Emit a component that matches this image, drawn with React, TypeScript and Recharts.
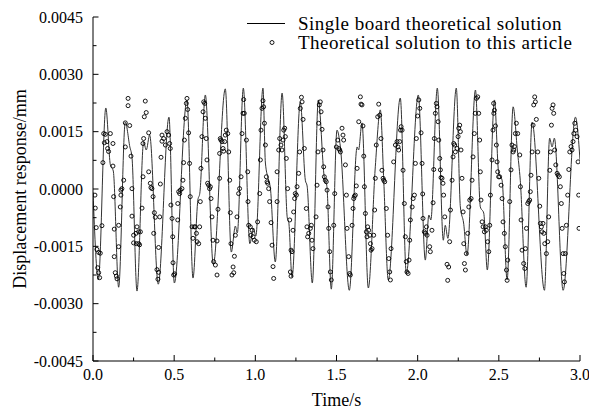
import React from "react";
import { ComposedChart, Line, Scatter, XAxis, YAxis, Legend } from "recharts";

const FONT = "'Liberation Serif', 'Times New Roman', serif";

// Single board theoretical solution (time s, displacement mm)
const lineT = [0, 0.033, 0.079, 0.107, 0.125, 0.158, 0.199, 0.227, 0.24, 0.271, 0.312, 0.328, 0.349, 0.402, 0.468, 0.501, 0.579, 0.616, 0.646, 0.658, 0.692, 0.741, 0.815, 0.852, 0.877, 0.889, 0.926, 0.966, 0.988, 1.003, 1.047, 1.062, 1.082, 1.092, 1.123, 1.165, 1.197, 1.206, 1.226, 1.277, 1.308, 1.319, 1.351, 1.388, 1.425, 1.44, 1.468, 1.503, 1.524, 1.579, 1.627, 1.636, 1.657, 1.696, 1.739, 1.77, 1.791, 1.819, 1.893, 1.93, 2.004, 2.047, 2.069, 2.081, 2.121, 2.158, 2.17, 2.186, 2.238, 2.263, 2.283, 2.304, 2.356, 2.386, 2.407, 2.429, 2.473, 2.499, 2.52, 2.551, 2.588, 2.614, 2.632, 2.668, 2.705, 2.781, 2.813, 2.828, 2.842, 2.896, 2.972, 3.0];
const lineV = [-0.00008, -0.00238, 0.00212, 0.00063, 0.00047, -0.00257, 0.00175, 0.0011, 0.00084, -0.00267, 0.00123, 0.00102, 0.00141, -0.00249, 0.00188, -0.00246, 0.00233, -0.00233, -0.00029, -0.00011, 0.00246, -0.00197, 0.00262, -0.00165, -0.00097, -0.00115, 0.00264, -0.00143, -0.00102, -0.00123, 0.00264, 0.00068, 0.00023, 0.00005, -0.00191, 0.00251, -0.00076, -0.00087, -0.00231, 0.00228, 0.00023, 0.00008, -0.00246, 0.00233, 0.0003, 0.0001, -0.00262, 0.00154, 0.0011, -0.00265, 0.0011, 0.00102, 0.00173, -0.00259, 0.00058, 0.00207, 0.00023, -0.00238, 0.00238, -0.0022, 0.00246, -0.00186, -0.00068, -0.00081, 0.00264, -0.00134, -0.00095, -0.00129, 0.00264, -0.00047, -0.00089, -0.00173, 0.00259, -0.00047, -0.00063, -0.00212, 0.00233, 0.00042, 0.00023, -0.00238, 0.00215, 0.00102, 0.00023, -0.00257, 0.00175, -0.00265, 0.00133, 0.0011, 0.00133, -0.00265, 0.00188, 0.00076];

// Theoretical solution to this article: [time, displacement]
const articlePts: [number, number][] = [
  [0.012, -0.00016], [0.014, -0.0005], [0.02, -0.00101], [0.024, -0.00158], [0.029, -0.00206], [0.035, -0.00219], [0.035, -0.00166], [0.041, -0.00232], [0.045, -0.00168], [0.055, -0.00096], [0.061, 0.00069], [0.066, 0.00145], [0.07, 0.00121], [0.076, 0.00143], [0.086, 0.00124], [0.09, 0.00106], [0.096, 0.00098], [0.107, 0.00145], [0.123, 0.00119], [0.123, 0.0006], [0.127, -0.0002], [0.131, -0.00105], [0.131, -0.00177], [0.137, -0.00219], [0.144, -0.00228], [0.148, -0.00235], [0.158, -0.00151], [0.158, -0.00095], [0.168, -0.00047], [0.172, -0.00016], [0.172, -0.00003], [0.178, 0.00001], [0.189, 0.00023], [0.199, 0.0011], [0.199, 0.00173], [0.216, 0.00237], [0.216, 0.00218], [0.226, 0.00166], [0.234, 0.00086], [0.24, 0.00001], [0.24, -0.00071], [0.25, -0.00121], [0.25, -0.00141], [0.265, -0.00116], [0.267, -0.00143], [0.271, -0.00099], [0.281, -0.00112], [0.281, -0.00143], [0.287, -0.00146], [0.292, -0.00112], [0.302, -0.0005], [0.308, 0.00032], [0.308, 0.00119], [0.312, 0.00132], [0.316, 0.00189], [0.322, 0.0023], [0.328, 0.002], [0.343, 0.00147], [0.343, 0.00045], [0.353, 0.00015], [0.357, 0.00004], [0.363, 0.00001], [0.37, -0.0002], [0.374, -0.00116], [0.378, -0.00062], [0.384, -0.00074], [0.394, -0.00211], [0.4, -0.00236], [0.404, -0.00218], [0.404, -0.00153], [0.411, -0.00073], [0.415, 0.00013], [0.419, 0.00083], [0.425, 0.00141], [0.425, 0.00125], [0.435, 0.00132], [0.446, 0.00115], [0.456, 0.0015], [0.466, 0.00141], [0.472, 0.00119], [0.476, 0.00106], [0.48, -0.00042], [0.487, -0.00077], [0.491, -0.00125], [0.493, -0.00193], [0.497, -0.00225], [0.503, -0.00222], [0.522, -0.00038], [0.522, -0.00081], [0.528, -0.00007],
  [0.534, -0.00012], [0.538, -0.00003], [0.548, 0.00001], [0.554, 0.00023], [0.558, 0.00069], [0.563, 0.00128], [0.569, 0.00185], [0.575, 0.00224], [0.579, 0.00237], [0.583, 0.00208], [0.589, 0.00147], [0.595, 0.00067], [0.599, -0.0002], [0.61, -0.00099], [0.616, -0.00129], [0.624, -0.00099], [0.63, -0.00099], [0.637, -0.00116], [0.641, -0.00138], [0.651, -0.00143], [0.657, -0.00099], [0.661, -0.00033], [0.665, 0.00054], [0.671, 0.00137], [0.678, 0.00202], [0.682, 0.00228], [0.688, 0.00224], [0.692, 0.00185], [0.698, 0.00132], [0.702, 0.00076], [0.706, 0.00015], [0.712, 0.0001], [0.718, 0.00001], [0.723, 0.00006], [0.727, -0.00025], [0.733, -0.00073], [0.739, -0.00134], [0.743, -0.0019], [0.754, -0.00199], [0.764, -0.00136], [0.764, -0.00225], [0.77, -0.00053], [0.78, 0.00028], [0.78, 0.00093], [0.784, 0.00132], [0.788, 0.00128], [0.795, 0.00124], [0.801, 0.00106], [0.805, 0.00099], [0.811, 0.00124], [0.815, 0.00141], [0.821, 0.00154], [0.83, 0.00145], [0.836, 0.00097], [0.842, 0.00023], [0.846, -0.00062], [0.85, -0.00143], [0.856, -0.00225], [0.863, -0.00204], [0.867, -0.00219], [0.871, -0.00176], [0.877, -0.00121], [0.887, -0.00073], [0.897, -0.00012], [0.903, 0.00001], [0.912, 0.00032], [0.918, 0.00145], [0.924, 0.00198], [0.928, 0.00234], [0.932, 0.00198], [0.945, 0.00128], [0.953, 0.00045], [0.955, -0.00033], [0.959, -0.00095], [0.969, -0.00099], [0.973, -0.00121], [0.98, -0.00108], [0.986, -0.00125], [0.994, -0.00134], [1.006, -0.00138],
  [1.014, -0.00086], [1.027, -0.00012], [1.031, 0.00076], [1.035, 0.00154], [1.041, 0.00211], [1.047, 0.00231], [1.051, 0.00215], [1.056, 0.00172], [1.062, 0.00115], [1.068, 0.00032], [1.072, 0.00019], [1.076, 0.00015], [1.082, 0.00001], [1.088, -0.00033], [1.097, -0.00088], [1.103, -0.00147], [1.109, -0.00203], [1.113, -0.00234], [1.134, -0.00033], [1.134, 0.00045], [1.144, 0.00102], [1.15, 0.00132], [1.158, 0.00115], [1.164, 0.00102], [1.171, 0.00128], [1.175, 0.00154], [1.181, 0.00159], [1.185, 0.00137], [1.191, 0.0008], [1.199, 0.00001], [1.212, -0.00081], [1.216, -0.00217], [1.22, -0.0016], [1.22, -0.00228], [1.226, -0.00164], [1.232, -0.00108], [1.236, -0.0006], [1.242, -0.00025], [1.246, -0.00012], [1.253, -0.00016], [1.257, 0.00006], [1.267, 0.00041], [1.273, 0.00097], [1.277, 0.00211], [1.284, 0.0024], [1.288, 0.00228], [1.294, 0.00182], [1.302, 0.00106], [1.314, -0.00051], [1.318, -0.00099], [1.322, -0.00125], [1.329, -0.00116], [1.339, -0.00103], [1.345, -0.00095], [1.349, -0.00134], [1.355, -0.00156], [1.374, -0.00073], [1.38, 0.0001], [1.386, 0.00097], [1.39, 0.00172], [1.394, 0.0022], [1.4, 0.00228], [1.405, 0.00202], [1.411, 0.00156], [1.417, 0.00102], [1.421, 0.00058], [1.425, 0.00032], [1.431, 0.00023], [1.437, 0.00019], [1.442, -0.00003], [1.448, -0.00047], [1.452, -0.00103], [1.458, -0.00164], [1.462, -0.00217], [1.468, -0.00238], [1.483, -0.00095], [1.489, -0.00012], [1.499, 0.0011], [1.508, 0.00128], [1.514, 0.00106],
  [1.52, 0.00102], [1.524, 0.00097], [1.534, 0.00159], [1.54, 0.00141], [1.544, 0.00128], [1.555, 0.00063], [1.561, -0.00016], [1.565, -0.00103], [1.575, -0.00177], [1.581, -0.00221], [1.585, -0.00225], [1.596, -0.00095], [1.602, -0.00051], [1.606, -0.00025], [1.61, -0.00019], [1.616, -0.00016], [1.622, 0.00008], [1.627, 0.00054], [1.637, 0.00176], [1.647, 0.00241], [1.651, 0.00222], [1.657, 0.0022], [1.663, 0.00165], [1.668, 0.00086], [1.672, 0.00006], [1.678, -0.00064], [1.684, -0.00112], [1.688, -0.00125], [1.692, -0.00099], [1.698, -0.00108], [1.705, -0.00121], [1.709, -0.00143], [1.713, -0.0016], [1.719, -0.00156], [1.729, -0.00121], [1.735, -0.00055], [1.739, 0.00028], [1.745, 0.00115], [1.754, 0.00189], [1.76, 0.00222], [1.766, 0.00193], [1.774, 0.00132], [1.78, 0.00049], [1.787, 0.00028], [1.791, 0.00023], [1.797, 0.00019], [1.807, -0.00051], [1.815, -0.00121], [1.822, -0.00182], [1.828, -0.00217], [1.832, -0.00238], [1.836, -0.00156], [1.852, 0.00071], [1.863, 0.00115], [1.873, 0.00124], [1.879, 0.0011], [1.883, 0.00102], [1.889, 0.00124], [1.894, 0.00154], [1.898, 0.00163], [1.904, 0.00154], [1.91, 0.00049], [1.918, -0.00038], [1.924, -0.00125], [1.93, -0.0019], [1.934, -0.00217], [1.941, -0.00221], [1.947, -0.00186], [1.951, -0.00134], [1.955, -0.00081], [1.966, -0.00047], [1.972, -0.00025], [1.98, -0.00016], [1.986, 0.00067], [1.992, 0.00132], [2.0, 0.00191], [2.007, 0.00233],
  [2.013, 0.00211], [2.021, 0.00147], [2.027, 0.00067], [2.031, -0.00013], [2.033, -0.00077], [2.041, -0.00112], [2.048, -0.00116], [2.054, -0.00099], [2.058, -0.00121], [2.074, -0.00151], [2.078, -0.00164], [2.088, -0.00108], [2.095, -0.00036], [2.099, 0.00051], [2.103, 0.00132], [2.109, 0.00198], [2.115, 0.00224], [2.119, 0.00215], [2.126, 0.00176], [2.13, 0.00128], [2.136, 0.0008], [2.14, 0.0005], [2.144, 0.0003], [2.15, 0.00028], [2.156, 0.00015], [2.16, -0.00016], [2.167, -0.00073], [2.181, -0.00197], [2.185, -0.00239], [2.191, -0.00204], [2.197, -0.00138], [2.202, -0.00055], [2.212, 0.00023], [2.218, 0.00084], [2.222, 0.00119], [2.228, 0.00115], [2.232, 0.00097], [2.243, 0.00106], [2.249, 0.00137], [2.253, 0.00159], [2.259, 0.00167], [2.263, 0.0015], [2.267, 0.00102], [2.273, 0.00028], [2.28, -0.0006], [2.284, -0.00143], [2.288, -0.00195], [2.294, -0.00212], [2.3, -0.00169], [2.308, -0.00116], [2.315, -0.00047], [2.321, -0.00029], [2.329, -0.00025], [2.335, 0.00023], [2.341, 0.00084], [2.349, 0.00145], [2.355, 0.00198], [2.362, 0.00237], [2.37, 0.00241], [2.376, 0.00198], [2.382, 0.00128], [2.386, 0.00045], [2.39, -0.00029], [2.397, -0.00086], [2.403, -0.00099], [2.411, -0.00112], [2.417, -0.00099], [2.423, -0.00108], [2.431, -0.00138], [2.438, -0.00164], [2.444, -0.00095], [2.448, -0.00016], [2.458, 0.00076], [2.464, 0.00154], [2.469, 0.00198], [2.489, 0.00071], [2.493, 0.00045], [2.499, 0.00032],
  [2.468, 0.00224], [2.473, 0.00206], [2.479, 0.00165], [2.485, 0.00115], [2.505, 0.00032], [2.514, 0.0001], [2.52, -0.00025], [2.526, -0.00086], [2.534, -0.00116], [2.54, -0.00151], [2.547, -0.00212], [2.551, -0.00239], [2.555, -0.00186], [2.567, -0.00033], [2.575, 0.0005], [2.581, 0.00115], [2.588, 0.00097], [2.592, 0.00102], [2.596, 0.00111], [2.602, 0.00145], [2.608, 0.00172], [2.616, 0.00145], [2.629, 0.00089], [2.633, 0.00006], [2.637, -0.00081], [2.643, -0.0016], [2.653, -0.00195], [2.66, -0.00208], [2.664, -0.00156], [2.67, -0.00103], [2.678, -0.00038], [2.684, -0.00033], [2.69, -0.00029], [2.694, -0.00007], [2.698, 0.00036], [2.705, 0.00097], [2.711, 0.00167], [2.715, 0.0022], [2.721, 0.00241], [2.725, 0.00228], [2.731, 0.00182], [2.74, 0.00097], [2.746, 0.00028], [2.752, -0.00045], [2.756, -0.0009], [2.762, -0.00099], [2.766, -0.00112], [2.772, -0.0009], [2.777, -0.00116], [2.783, -0.00143], [2.793, -0.00169], [2.801, -0.00138], [2.807, -0.00073], [2.814, 0.00049], [2.818, 0.00097], [2.824, 0.00167], [2.828, 0.00211], [2.834, 0.0022], [2.838, 0.00198], [2.844, 0.00102], [2.851, 0.00063], [2.859, 0.00041], [2.865, 0.00036], [2.873, 0.00032], [2.879, 0.00006], [2.885, -0.00038], [2.89, -0.00103], [2.896, -0.00169], [2.9, -0.00221], [2.904, -0.00243], [2.91, -0.00169], [2.916, -0.00095], [2.924, -0.00016], [2.931, 0.00051], [2.937, 0.00097], [2.945, 0.00111], [2.951, 0.00102], [2.957, 0.00124], [2.962, 0.00145], [2.968, 0.00172], [2.974, 0.00154], [2.982, 0.00137], [2.988, 0.00071], [2.992, -0.00016], [2.994, -0.00103],
];

const xTicks = [0, 0.25, 0.5, 0.75, 1, 1.25, 1.5, 1.75, 2, 2.25, 2.5, 2.75, 3];
const yTicks = [-0.0045, -0.00375, -0.003, -0.00225, -0.0015, -0.00075, 0, 0.00075, 0.0015, 0.00225, 0.003, 0.00375, 0.0045];

const lineData = lineT.map((t, i) => ({ t, v: lineV[i] }));
const dotData = articlePts.map(([t, v]) => ({ t, v }));

const isStep = (v: number, step: number) => Math.abs(v / step - Math.round(v / step)) < 1e-6;

const XTick = ({ x, y, payload }: any) => {
  const major = isStep(payload.value, 0.5);
  return (
    <g>
      <line x1={x} x2={x} y1={y} y2={y - (major ? 6 : 3.5)} stroke="#000" />
      {major && (
        <text x={x} y={y + 19} textAnchor="middle" fontSize={16} fontFamily={FONT} fill="#000">
          {payload.value.toFixed(1)}
        </text>
      )}
    </g>
  );
};

const YTick = ({ x, y, payload }: any) => {
  const major = isStep(payload.value, 0.0015);
  return (
    <g>
      <line x1={x} x2={x + (major ? 5.5 : 3.5)} y1={y} y2={y} stroke="#000" />
      {major && (
        <text x={x - 10} y={y} dy="0.35em" textAnchor="end" fontSize={16} fontFamily={FONT} fill="#000">
          {payload.value.toFixed(4)}
        </text>
      )}
    </g>
  );
};

const Dot = ({ cx, cy }: any) => <circle cx={cx} cy={cy} r={2} fill="none" stroke="#000" strokeWidth={0.9} />;

const LegendBox = () => (
  <div style={{ fontFamily: FONT, fontSize: 19, letterSpacing: 0.5, lineHeight: "19px", color: "#000" }}>
    <div style={{ display: "flex", alignItems: "center", height: 19.5 }}>
      <svg width={53} height={19}>
        <line x1={2} x2={40} y1={9.5} y2={9.5} stroke="#000" strokeWidth={1} />
      </svg>
      <span style={{ whiteSpace: "nowrap" }}>Single board theoretical solution</span>
    </div>
    <div style={{ display: "flex", alignItems: "center", height: 19.5 }}>
      <svg width={53} height={19}>
        <circle cx={27} cy={9.5} r={2} fill="none" stroke="#000" strokeWidth={0.9} />
      </svg>
      <span style={{ whiteSpace: "nowrap" }}>Theoretical solution to this article</span>
    </div>
  </div>
);

export default function App() {
  return (
    <div style={{ position: "absolute", left: 0, top: 0, width: 589, height: 414, background: "#fff" }}>
      <ComposedChart width={589} height={414} margin={{ top: 17, right: 9, bottom: 0, left: 0 }}>
        <XAxis
          xAxisId="top"
          orientation="top"
          type="number"
          domain={[0, 3]}
          allowDataOverflow
          height={0}
          tick={false}
          tickLine={false}
          axisLine={{ stroke: "#000" }}
        />
        <YAxis
          yAxisId="right"
          orientation="right"
          type="number"
          domain={[-0.0045, 0.0045]}
          allowDataOverflow
          width={0}
          tick={false}
          tickLine={false}
          axisLine={{ stroke: "#000" }}
        />
        <XAxis
          dataKey="t"
          type="number"
          domain={[0, 3]}
          allowDataOverflow
          ticks={xTicks}
          interval={0}
          height={53}
          tickSize={0}
          tickMargin={0}
          tickLine={false}
          tick={<XTick />}
          axisLine={{ stroke: "#000" }}
          label={({ viewBox }: any) => (
            <text
              x={viewBox.x + viewBox.width / 2}
              y={viewBox.y + 45}
              textAnchor="middle"
              fontSize={18}
              fontFamily={FONT}
              fill="#000"
            >
              Time/s
            </text>
          )}
        />
        <YAxis
          dataKey="v"
          type="number"
          domain={[-0.0045, 0.0045]}
          allowDataOverflow
          ticks={yTicks}
          interval={0}
          width={93}
          tickSize={0}
          tickMargin={0}
          tickLine={false}
          tick={<YTick />}
          axisLine={{ stroke: "#000" }}
          label={({ viewBox }: any) => {
            const cx = viewBox.x + 20;
            const cy = viewBox.y + viewBox.height / 2;
            return (
              <text
                x={cx}
                y={cy}
                transform={`rotate(-90 ${cx} ${cy})`}
                textAnchor="middle"
                dominantBaseline="central"
                fontSize={18}
                fontFamily={FONT}
                fill="#000"
              >
                Displacement response/mm
              </text>
            );
          }}
        />
        <Legend
          layout="vertical"
          align="center"
          verticalAlign="middle"
          content={<LegendBox />}
          wrapperStyle={{ top: 13.5, left: 245, width: 340 }}
        />
        <Line
          data={lineData}
          dataKey="v"
          type="monotone"
          stroke="#333"
          strokeWidth={1}
          dot={false}
          activeDot={false}
          isAnimationActive={false}
        />
        <Scatter data={dotData} dataKey="v" shape={<Dot />} isAnimationActive={false} />
      </ComposedChart>
    </div>
  );
}
